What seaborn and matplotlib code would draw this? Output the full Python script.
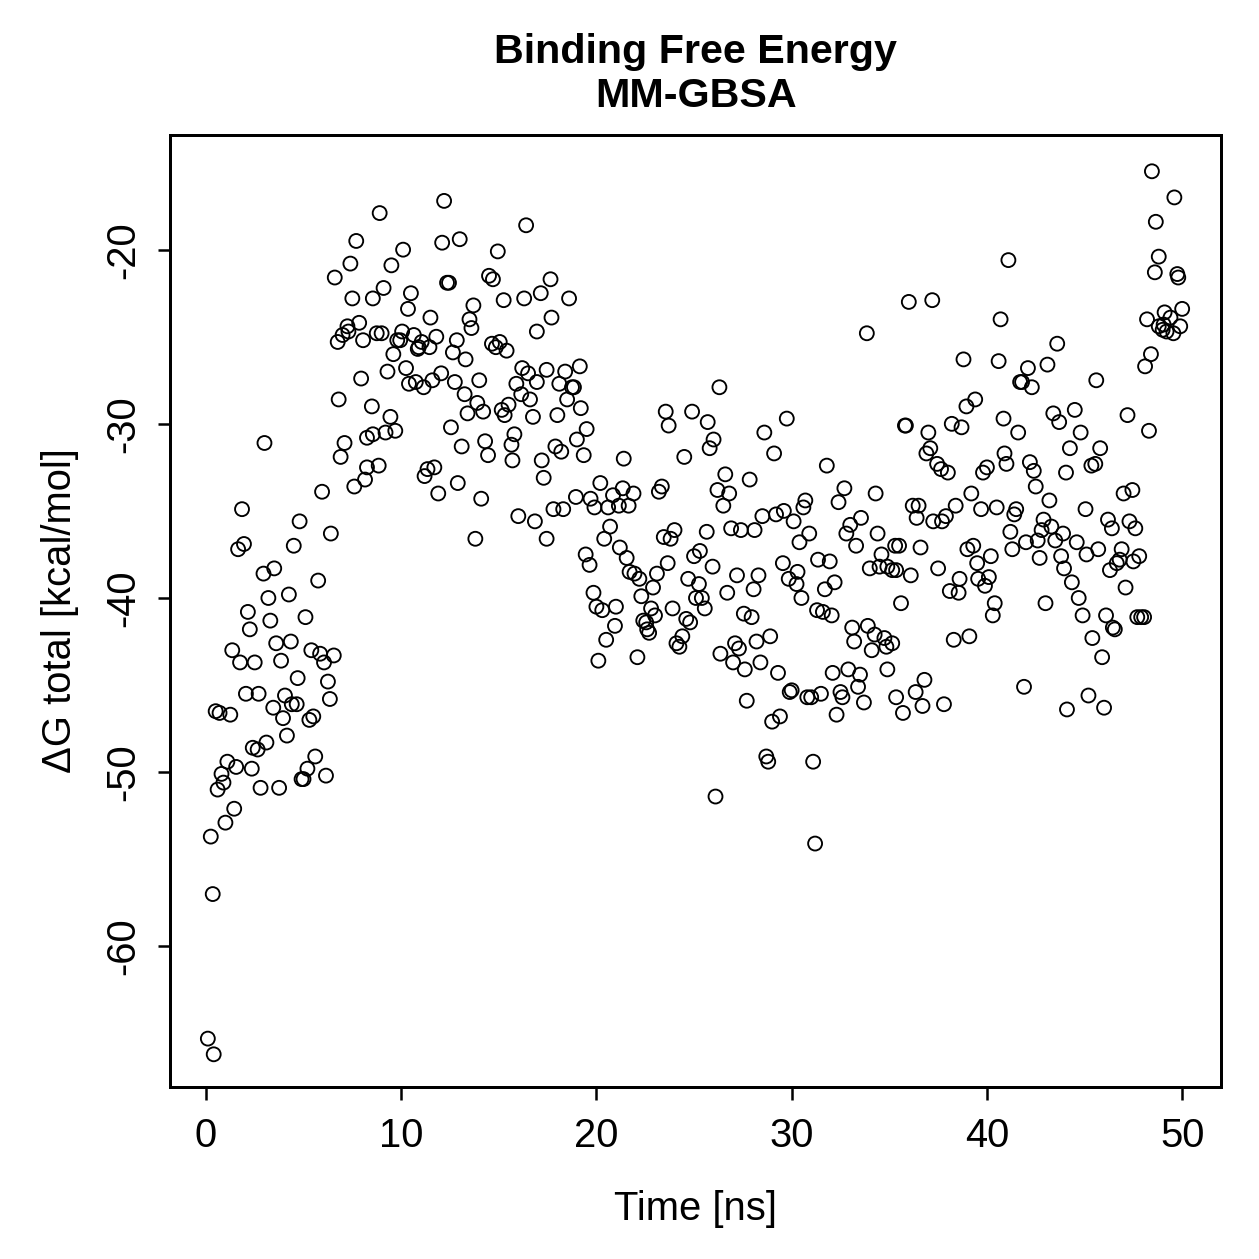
import numpy as np
import pandas as pd
import matplotlib
matplotlib.use("Agg")
import matplotlib.pyplot as plt
import seaborn as sns

# binding free energy samples (0-50 ns)
time_ns = [
    3.2, 4.25, 2.15, 3.3, 5.1, 2.25, 3.6, 4.35, 1.35, 5.4, 5.85, 6.55, 1.75, 2.5, 3.85, 6.05, 4.7, 6.25,
    2.05, 2.7, 4.05, 6.35, 0.5, 0.7, 1.25, 3.45, 4.4, 4.65, 3.95, 5.5, 5.3, 4.15, 3.1, 2.4, 2.65, 5.6,
    1.1, 1.55, 0.8, 2.35, 5.2, 6.15, 4.9, 5.0, 0.9, 0.6, 2.8, 3.75, 1.45, 1.0, 0.25, 0.35, 0.1, 0.4,
    7.7, 7.4, 6.6, 7.5, 7.25, 7.85, 7.0, 6.75, 7.3, 8.05, 7.95, 6.8, 7.1, 6.9, 8.25, 8.55, 8.25, 8.15,
    7.6, 5.95, 3.0, 1.85, 4.8, 6.4, 1.65, 1.95, 4.5, 2.95, 3.5, 5.75,
    12.2, 8.9, 16.4, 12.1, 13.0, 10.1, 9.5, 14.95, 12.35, 12.45, 14.5, 14.7, 9.1, 8.55, 10.5, 10.35,
    13.7, 15.25, 16.3, 17.15, 11.5, 13.5, 13.6, 10.05, 8.75, 9.0, 9.8, 9.95, 10.65, 11.05, 10.9, 10.85,
    11.45, 11.8, 12.85, 12.65, 13.3, 9.6, 9.3, 10.25, 10.4, 10.75, 11.15, 11.6, 12.05, 12.75, 13.25, 14.0,
    13.9, 13.4, 14.2, 14.65, 14.85, 15.05, 15.4, 16.2, 16.5, 16.95, 17.45, 15.9, 16.15, 16.6, 15.5, 15.15,
    15.3, 16.75, 8.5, 9.45, 9.2, 9.7, 12.55, 13.1, 14.3, 14.45, 15.8, 15.65, 15.7, 17.2, 17.3, 8.85,
    11.35, 11.7, 11.2, 12.9, 11.9, 14.1, 16.0, 16.85, 13.8, 17.45, 16.95,
    17.65, 18.6, 17.7, 18.4, 19.15, 18.1, 18.75, 18.85, 18.5, 18.0, 19.2, 19.5, 19.0, 17.9, 18.2, 19.35,
    21.4, 24.5, 23.55, 23.7, 24.9, 25.7, 26.0, 25.8, 26.3, 26.2, 20.2, 18.95, 17.8, 18.3, 19.7, 19.9,
    20.85, 21.35, 21.9, 20.6, 21.15, 21.65, 23.2, 23.35, 20.7, 20.4, 21.2, 21.55, 21.7, 21.95, 22.2, 19.45,
    19.65, 23.45, 23.8, 24.0, 25.65, 25.3, 25.0, 25.95, 23.65, 23.1, 22.9, 24.7, 25.25, 19.85, 22.3, 25.1,
    25.4,
    20.0, 20.3, 21.0, 22.8, 23.0, 23.9, 25.55, 20.95, 20.5, 20.1, 22.1, 22.4, 22.55, 22.6, 22.7, 24.6,
    24.8, 24.4, 24.1, 24.25, 26.35, 26.1,
    33.85, 29.75, 28.6, 29.1, 31.8, 26.6, 27.85, 26.8, 26.5, 32.7, 32.4, 34.3, 28.5, 29.2, 29.6, 30.7,
    30.6, 30.1, 26.9, 27.4, 28.1, 30.9, 30.4, 33.55, 33.0, 32.8, 33.3, 34.4, 35.3, 34.6, 34.0, 34.5,
    34.9, 35.15, 29.55, 30.3, 29.85, 30.25, 31.35, 31.95, 32.2, 31.7, 30.5, 27.2, 28.3, 28.05, 26.7, 27.55,
    27.95, 31.3, 31.6, 32.05,
    33.1, 33.9, 34.25, 33.2, 34.1, 34.75, 34.85, 35.15, 28.9, 28.2, 27.1, 27.3, 27.0, 27.6, 28.4, 29.3,
    30.0, 29.9, 27.7, 30.8, 31.0, 31.5, 32.1, 32.9, 33.5, 32.5, 32.6, 33.4, 34.9, 35.35, 33.7, 32.3,
    29.0, 29.4, 28.7, 28.8, 31.1, 31.2,
    36.0, 37.2, 40.7, 43.6, 38.8, 40.6, 42.1, 43.1, 41.7, 41.8, 42.3, 39.4, 38.95, 40.85, 43.4, 43.7,
    44.5, 41.6, 35.8, 35.85, 38.2, 38.7, 37.0, 37.1, 36.9, 37.45, 37.65, 38.0, 40.9, 41.0, 40.0, 39.8,
    42.2, 42.4, 44.25, 44.05, 39.2, 42.5, 43.2, 36.2, 36.5, 36.4, 38.4, 39.7, 40.5, 41.5, 41.4, 37.25,
    37.7, 37.9, 42.9, 42.8, 43.3, 43.9, 43.5, 42.6, 41.2, 42.0, 41.3, 35.5, 36.6, 39.0, 39.3, 40.2,
    39.5, 42.7, 43.8, 43.95, 44.35, 35.35, 36.1, 37.5, 38.6, 38.1, 38.55, 39.55, 40.1, 39.9, 35.6, 40.4,
    40.3, 43.0, 41.1,
    38.3, 39.1, 36.8, 36.35, 36.7, 35.7, 37.8, 41.9, 44.1,
    48.45, 49.6, 48.65, 48.8, 48.6, 49.75, 49.8, 50.0, 49.1, 49.4, 48.2, 48.8, 49.0, 49.2, 49.55, 49.9,
    49.05, 48.4, 48.1, 45.6, 44.8, 47.2, 48.3, 45.8,
    45.35, 45.55, 47.0, 47.45, 45.05, 46.2, 46.4, 47.3, 47.6, 44.6, 45.1, 45.7, 46.9, 46.8, 46.65, 46.3,
    47.8, 47.5, 47.1, 44.7, 44.9, 46.1, 46.45, 46.55, 47.7, 47.9, 48.05, 45.4, 45.9, 45.2, 46.0,
]

dg_total = [
    -40.0, -39.8, -40.8, -41.3, -41.1, -41.8, -42.6, -42.5, -43.0, -43.0, -43.2, -43.3, -43.7, -43.7, -43.6, -43.7, -44.6, -44.8,
    -45.5, -45.5, -45.6, -45.8, -46.5, -46.6, -46.7, -46.3, -46.1, -46.1, -46.9, -46.8, -47.0, -47.9, -48.3, -48.6, -48.7, -49.1,
    -49.4, -49.7, -50.1, -49.8, -49.8, -50.2, -50.4, -50.4, -50.6, -51.0, -50.9, -50.9, -52.1, -52.9, -53.7, -57.0, -65.3, -66.2,
    -19.5, -20.8, -21.6, -22.8, -24.4, -24.2, -24.9, -25.3, -24.7, -25.2, -27.4, -28.6, -31.1, -31.9, -30.8, -30.6, -32.5, -33.2,
    -33.6, -33.9, -31.1, -34.9, -35.6, -36.3, -37.2, -36.9, -37.0, -38.6, -38.3, -39.0,
    -17.2, -17.9, -18.6, -19.6, -19.4, -20.0, -20.9, -20.1, -21.9, -21.9, -21.5, -21.7, -22.2, -22.8, -22.5, -23.4,
    -23.2, -22.9, -22.8, -22.5, -23.9, -24.0, -24.5, -24.7, -24.8, -24.8, -25.2, -25.2, -24.9, -25.3, -25.6, -25.7,
    -25.6, -25.0, -25.2, -25.9, -26.3, -26.0, -27.0, -26.8, -27.7, -27.6, -27.9, -27.5, -27.1, -27.6, -28.3, -27.5,
    -28.8, -29.4, -29.3, -25.4, -25.6, -25.3, -25.8, -26.8, -27.1, -27.6, -26.9, -27.7, -28.3, -28.6, -28.9, -29.2,
    -29.5, -29.6, -29.0, -29.6, -30.5, -30.4, -30.2, -31.3, -31.0, -31.8, -30.6, -31.2, -32.1, -32.1, -33.1, -32.4,
    -32.6, -32.5, -33.0, -33.4, -34.0, -34.3, -35.3, -35.6, -36.6, -36.6, -24.7,
    -21.7, -22.8, -23.9, -27.0, -26.7, -27.7, -27.9, -27.9, -28.6, -29.5, -29.1, -30.3, -30.9, -31.3, -31.6, -31.8,
    -32.0, -31.9, -29.3, -30.1, -29.3, -29.9, -30.9, -31.4, -27.9, -33.8, -33.4, -34.2, -34.9, -34.9, -34.3, -34.8,
    -34.1, -33.7, -34.0, -34.8, -34.7, -34.7, -33.9, -33.6, -35.9, -36.6, -37.1, -37.7, -38.5, -38.6, -38.9, -37.5,
    -38.1, -36.5, -36.6, -36.1, -36.2, -37.3, -37.6, -38.2, -38.0, -38.6, -39.4, -38.9, -39.2, -39.7, -39.9, -40.0,
    -40.0,
    -40.5, -40.7, -40.5, -40.6, -41.0, -40.6, -40.6, -41.6, -42.4, -43.6, -43.4, -41.3, -41.4, -41.8, -42.0, -41.2,
    -41.4, -42.2, -42.6, -42.8, -43.2, -51.4,
    -24.8, -29.7, -30.5, -31.7, -32.4, -32.9, -33.2, -34.0, -34.7, -33.7, -34.5, -34.0, -35.3, -35.2, -35.0, -34.4,
    -34.8, -35.6, -36.0, -36.1, -36.1, -36.3, -36.8, -35.4, -35.8, -36.3, -37.0, -36.3, -37.0, -37.5, -38.3, -38.2,
    -38.2, -38.4, -38.0, -38.5, -38.9, -39.2, -37.8, -37.9, -39.1, -39.5, -40.0, -38.7, -38.7, -39.5, -39.7, -40.9,
    -41.1, -40.7, -40.8, -41.0,
    -41.7, -41.6, -42.1, -42.5, -43.0, -42.3, -42.8, -42.6, -42.2, -42.5, -42.6, -42.9, -43.7, -44.1, -43.7, -44.3,
    -45.3, -45.4, -45.9, -45.7, -45.7, -45.5, -44.3, -44.1, -44.4, -45.4, -45.7, -45.1, -44.1, -45.7, -46.0, -46.7,
    -47.1, -46.8, -49.1, -49.4, -49.4, -54.1,
    -23.0, -22.9, -24.0, -25.4, -26.3, -26.4, -26.8, -26.6, -27.6, -27.6, -27.9, -28.6, -29.0, -29.7, -29.4, -29.9,
    -29.2, -30.5, -30.1, -30.1, -30.0, -30.2, -30.5, -31.4, -31.7, -32.3, -32.6, -32.8, -31.7, -32.3, -32.5, -32.8,
    -32.2, -32.7, -31.4, -32.8, -34.0, -33.6, -34.4, -34.7, -34.7, -35.4, -34.7, -34.9, -34.8, -34.9, -35.2, -35.6,
    -35.6, -35.3, -35.5, -36.1, -35.9, -36.3, -36.7, -36.7, -36.2, -36.8, -37.2, -37.0, -37.1, -37.2, -37.0, -37.6,
    -38.0, -37.7, -37.6, -38.3, -39.1, -38.4, -38.7, -38.3, -38.9, -39.6, -39.7, -38.9, -38.8, -39.3, -40.3, -40.3,
    -41.0, -40.3, -20.6,
    -42.4, -42.2, -44.7, -45.4, -46.2, -46.6, -46.1, -45.1, -46.4,
    -15.5, -17.0, -18.4, -20.4, -21.3, -21.4, -21.6, -23.4, -23.6, -23.9, -24.0, -24.4, -24.6, -24.7, -24.8, -24.4,
    -24.3, -26.0, -26.7, -27.5, -30.5, -29.5, -30.4, -31.4,
    -32.4, -32.3, -34.0, -33.8, -34.9, -35.5, -36.0, -35.6, -36.0, -36.8, -37.5, -37.2, -37.2, -37.8, -38.0, -38.4,
    -37.6, -37.9, -39.4, -40.0, -41.0, -41.0, -41.7, -41.8, -41.1, -41.1, -41.1, -42.3, -43.4, -45.6, -46.3,
]

x_ticks = [0, 10, 20, 30, 40, 50]
y_ticks = [-60, -50, -40, -30, -20]

df = pd.DataFrame({"time": time_ns, "dg": dg_total})

sns.set_style("ticks")
plt.rcParams["font.family"] = ["Liberation Sans", "DejaVu Sans"]
plt.rcParams["text.color"] = "black"
plt.rcParams["axes.labelcolor"] = "black"

fig = plt.figure(figsize=(1259 / 180, 1259 / 180), dpi=180)
ax = fig.add_axes([0.135, 0.137, 0.835, 0.756])

sns.scatterplot(data=df, x="time", y="dg", ax=ax, marker="o", s=31,
                facecolor="none", edgecolor="black", linewidth=0.75, legend=False)

ax.set_xlim(-1.84, 52.0)
ax.set_ylim(-68.05, -13.4)
ax.set_xticks(x_ticks)
ax.set_yticks(y_ticks)
ax.set_xticklabels([str(v) for v in x_ticks], fontsize=16)
ax.set_yticklabels([str(v) for v in y_ticks], fontsize=16, rotation=90, va="center")
ax.tick_params(direction="out", length=5, width=1.0, pad=6, colors="black")
ax.tick_params(axis="x", pad=7)

for sp in ax.spines.values():
    sp.set_visible(True)
    sp.set_linewidth(1.2)
    sp.set_color("black")

ax.set_xlabel("Time [ns]", fontsize=16, labelpad=14, color="black")
ax.set_ylabel("\u0394G total [kcal/mol]", fontsize=16, labelpad=10, color="black")
ax.set_title("Binding Free Energy\nMM-GBSA", fontsize=16.5, fontweight="bold",
             pad=11, linespacing=1.2, color="black")

fig.savefig("out.png", dpi=180, facecolor="white")
